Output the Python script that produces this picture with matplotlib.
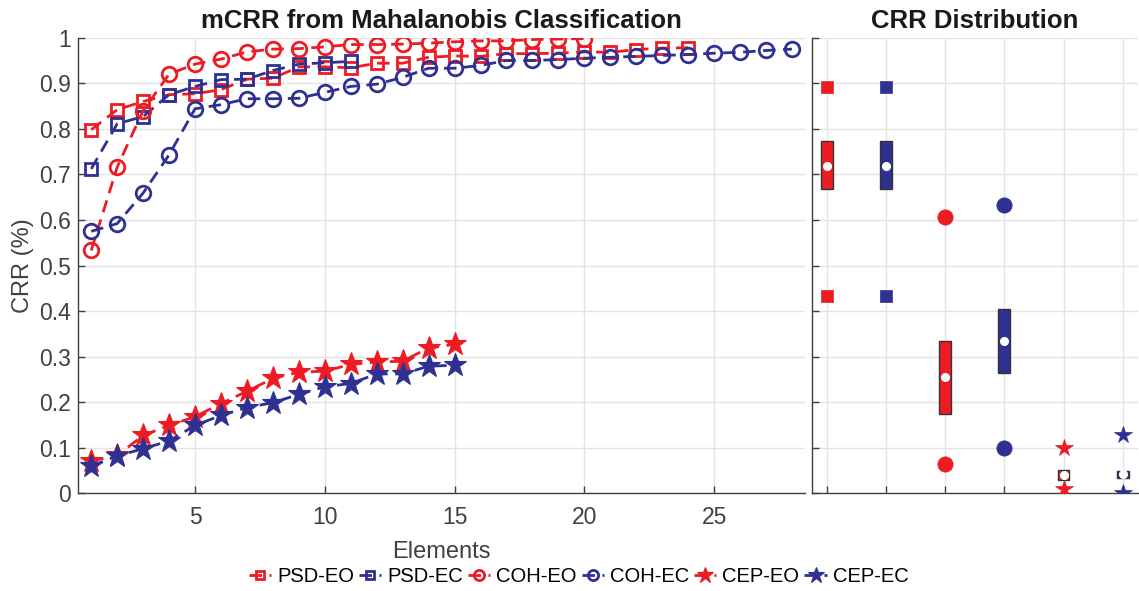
import matplotlib.pyplot as plt
import numpy as np

plt.rcParams['font.family'] = ['Liberation Sans', 'DejaVu Sans']

red = '#ED1C24'
blue = '#2E3192'
axis_col = '#404040'
grid_col = '#E3E3E3'

# mean CRR vs. number of elements
psd_eo = [0.798, 0.842, 0.860, 0.875, 0.877, 0.886, 0.909, 0.911, 0.936, 0.936,
          0.934, 0.944, 0.944, 0.957, 0.960, 0.959, 0.965, 0.965, 0.966, 0.969,
          0.968, 0.974, 0.977, 0.978]
psd_ec = [0.712, 0.811, 0.827, 0.875, 0.893, 0.908, 0.909, 0.928, 0.942, 0.945,
          0.948]
coh_eo = [0.533, 0.716, 0.840, 0.920, 0.942, 0.953, 0.969, 0.975, 0.976, 0.980,
          0.985, 0.985, 0.986, 0.988, 0.991, 0.993, 0.993, 0.996, 0.997, 0.998]
coh_ec = [0.575, 0.592, 0.659, 0.743, 0.844, 0.853, 0.866, 0.866, 0.867, 0.880,
          0.893, 0.898, 0.913, 0.933, 0.933, 0.939, 0.950, 0.950, 0.952, 0.955,
          0.957, 0.959, 0.961, 0.963, 0.966, 0.968, 0.972, 0.975]
cep_eo = [0.071, 0.083, 0.127, 0.149, 0.168, 0.197, 0.224, 0.252, 0.266, 0.268,
          0.283, 0.288, 0.290, 0.319, 0.327]
cep_ec = [0.060, 0.082, 0.098, 0.115, 0.149, 0.171, 0.188, 0.199, 0.217, 0.234,
          0.241, 0.262, 0.262, 0.279, 0.281]

# CRR distribution per feature set
dist_labels = ['PSD-EO', 'PSD-EC', 'COH-EO', 'COH-EC', 'CEP-EO', 'CEP-EC']
dist_q1 = [0.667, 0.667, 0.175, 0.263, 0.030, 0.033]
dist_q3 = [0.774, 0.774, 0.335, 0.405, 0.052, 0.050]
dist_med = [0.719, 0.719, 0.256, 0.334, 0.041, 0.042]
dist_max = [0.891, 0.891, 0.606, 0.633, 0.100, 0.128]
dist_min = [0.432, 0.432, 0.064, 0.100, 0.009, 0.001]

series = [
    ('PSD-EO', psd_eo, red, 's', 8.5, 'none'),
    ('PSD-EC', psd_ec, blue, 's', 8.5, 'none'),
    ('COH-EO', coh_eo, red, 'o', 10.5, 'none'),
    ('COH-EC', coh_ec, blue, 'o', 10.5, 'none'),
    ('CEP-EO', cep_eo, red, '*', 17, red),
    ('CEP-EC', cep_ec, blue, '*', 17, blue),
]

fig = plt.figure(figsize=(11.39, 5.91), dpi=100)
ax = fig.add_axes([0.0687, 0.1653, 0.638, 0.7709])
ax2 = fig.add_axes([0.7129, 0.1653, 0.2858, 0.7709])

handles = []
for name, vals, col, mk, ms, fc in series:
    x = np.arange(1, len(vals) + 1)
    h, = ax.plot(x, vals, color=col, lw=2.0, dashes=(4.5, 2.7), marker=mk, ms=ms,
                 mfc=fc, mec=col, mew=2.0 if fc == 'none' else 0.8, label=name)
    handles.append(h)

ax.set_xlim(0.5, 28.5)
ax.set_ylim(0, 1)
ax.set_xticks([5, 10, 15, 20, 25])
ax.set_yticks(np.arange(0, 1.01, 0.1))
ax.set_yticklabels(['0'] + ['%.1f' % v for v in np.arange(0.1, 0.95, 0.1)] + ['1'])
ax.set_xlabel('Elements', fontsize=17, color=axis_col, labelpad=9)
ax.set_ylabel('CRR (%)', fontsize=17, color=axis_col, labelpad=4)
ax.set_title('mCRR from Mahalanobis Classification', fontsize=18.5,
             fontweight='bold', color='#1a1a1a', pad=7)

# box-style summary: q1-q3 bar, median dot, extremes as markers
width = 0.2
for i, lab in enumerate(dist_labels):
    pos = i + 1
    name, vals, col, mk, ms, fc = series[i]
    ax2.bar(pos, dist_q3[i] - dist_q1[i], bottom=dist_q1[i], width=width,
            color=col, edgecolor='#333333', linewidth=1.0, zorder=3)
    ax2.plot(pos, dist_med[i], 'o', ms=5.5, mfc='white', mec='white', zorder=4)
    big = {'s': 8, 'o': 11, '*': 13}[mk]
    ax2.plot([pos, pos], [dist_max[i], dist_min[i]], ls='none', marker=mk,
             ms=big, mfc=col, mec=col, mew=0.5, zorder=4)

ax2.set_xlim(0.75, 6.25)
ax2.set_ylim(0, 1)
ax2.set_xticks(range(1, 7))
ax2.set_xticklabels([])
ax2.set_yticks(np.arange(0, 1.01, 0.1))
ax2.set_yticklabels([])
ax2.set_title('CRR Distribution', fontsize=18.5, fontweight='bold',
              color='#1a1a1a', pad=7)

for a in (ax, ax2):
    a.grid(True, color=grid_col, lw=1.0)
    a.set_axisbelow(True)
    for s in ('top', 'right'):
        a.spines[s].set_visible(False)
    for s in ('left', 'bottom'):
        a.spines[s].set_color(axis_col)
        a.spines[s].set_linewidth(1.0)
    a.tick_params(direction='in', length=5, width=1.0, color=axis_col,
                  labelcolor=axis_col, labelsize=16.5)
    a.tick_params(axis='x', pad=9)
    a.tick_params(axis='y', pad=5)

fig.legend(handles=handles, loc='lower center', bbox_to_anchor=(0.508, -0.022),
           ncol=6, frameon=False, fontsize=14.5, handlelength=1.1,
           handletextpad=0.3, columnspacing=0.25, markerscale=0.7)

fig.savefig('out.png', dpi=100)
